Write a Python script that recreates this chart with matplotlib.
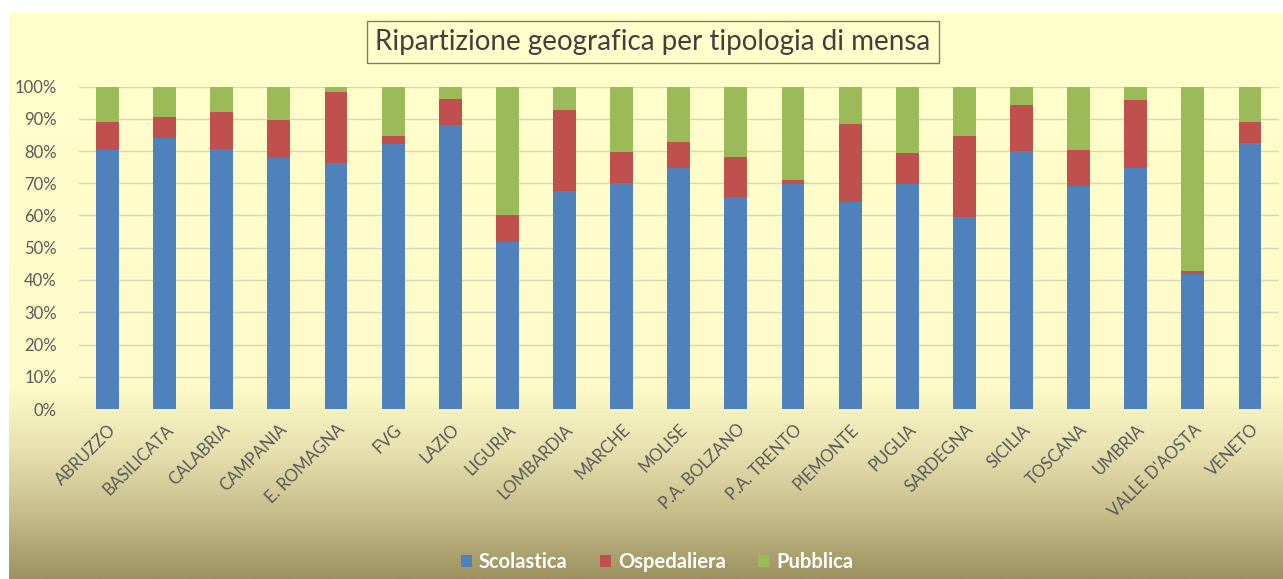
import numpy as np
import matplotlib
matplotlib.use("Agg")
import matplotlib.pyplot as plt
import matplotlib.transforms as mtransforms
from matplotlib.colors import LinearSegmentedColormap
from matplotlib.patches import Patch

plt.rcParams['font.family'] = ['Lato', 'DejaVu Sans']

regions = ["ABRUZZO", "BASILICATA", "CALABRIA", "CAMPANIA", "E. ROMAGNA", "FVG", "LAZIO",
           "LIGURIA", "LOMBARDIA", "MARCHE", "MOLISE", "P.A. BOLZANO", "P.A. TRENTO",
           "PIEMONTE", "PUGLIA", "SARDEGNA", "SICILIA", "TOSCANA", "UMBRIA",
           "VALLE D'AOSTA", "VENETO"]
scolastica = [80.2, 84.0, 80.6, 77.8, 76.4, 82.1, 88.1, 51.9, 67.5, 70.1, 74.6, 65.8, 69.9,
              64.2, 69.8, 59.5, 80.1, 69.1, 74.6, 42.0, 82.6]
ospedaliera = [8.8, 6.4, 11.5, 11.9, 22.0, 2.7, 7.9, 8.4, 25.3, 9.7, 8.3, 12.2, 1.2,
               24.3, 9.6, 25.0, 14.3, 11.1, 21.1, 0.8, 6.3]
pubblica = [100 - s - o for s, o in zip(scolastica, ospedaliera)]
series_names = ["Scolastica", "Ospedaliera", "Pubblica"]
colors = ["#4F81BD", "#C0504D", "#9BBB59"]

W, H = 1283, 579
fig = plt.figure(figsize=(W / 100, H / 100), dpi=100)
fig.patch.set_facecolor("white")

# background gradient panel
bg = fig.add_axes([9 / W, 0, 1 - 9 / W, 1 - 12 / H], zorder=0)
bg.axis("off")
stops = [(0.0, "#FFFFCC"), (0.66, "#FDFBC9"), (0.77, "#E8E2B0"),
         (0.88, "#C8BF8C"), (1.0, "#9B925F")]
cmap = LinearSegmentedColormap.from_list("bgg", stops)
grad = np.linspace(0, 1, 512).reshape(-1, 1)
bg.imshow(grad, aspect="auto", cmap=cmap, extent=[0, 1, 0, 1], origin="upper")
bg.set_xlim(0, 1); bg.set_ylim(0, 1)

ax = fig.add_axes([79 / W, (H - 409) / H, (1278.5 - 79) / W, (409 - 86.5) / H], zorder=1)
ax.patch.set_alpha(0)
x = np.arange(len(regions))
s = np.array(scolastica) / 100
o = np.array(ospedaliera) / 100
p = np.array(pubblica) / 100
ax.bar(x, s, width=0.40, color=colors[0], zorder=3)
ax.bar(x, o, width=0.40, bottom=s, color=colors[1], zorder=3)
ax.bar(x, p, width=0.40, bottom=s + o, color=colors[2], zorder=3)
ax.set_xlim(-0.5, len(regions) - 0.5)
ax.set_ylim(0, 1)
ax.set_yticks(np.linspace(0, 1, 11))
ax.set_yticklabels([f"{int(v)}%" for v in np.linspace(0, 100, 11)], fontsize=12, color="#595959")
ax.yaxis.grid(True, color="#D9D6B8", lw=1, zorder=0)
ax.tick_params(axis="both", length=0)
ax.tick_params(axis="y", pad=16)
for sp in ax.spines.values():
    sp.set_visible(False)
ax.set_xticks(x)
ax.set_xticklabels(regions, rotation=45, ha="right", va="center", rotation_mode="anchor",
                   fontsize=12, color="#595959")
ax.tick_params(axis="x", pad=13)
offset = mtransforms.ScaledTranslation(6 / 100, 0, fig.dpi_scale_trans)
for lab in ax.get_xticklabels():
    lab.set_transform(lab.get_transform() + offset)

fig.text(653 / W, 1 - 42 / H, "Ripartizione geografica per tipologia di mensa",
         ha="center", va="center", fontsize=20, color="#404040",
         bbox=dict(boxstyle="square,pad=0.3", facecolor="#FFFFCC", edgecolor="#7F7F60", lw=1))

handles = [Patch(facecolor=c, edgecolor="none") for c in colors]
leg = fig.legend(handles, series_names, loc="center", bbox_to_anchor=(657 / W, 1 - 562 / H),
                 ncol=3, frameon=False, fontsize=14.5, handlelength=0.55, handleheight=0.6,
                 handletextpad=0.35, columnspacing=1.6)
for t in leg.get_texts():
    t.set_color("white")
    t.set_fontweight("bold")

fig.savefig("out.png", dpi=100, facecolor=fig.get_facecolor())
